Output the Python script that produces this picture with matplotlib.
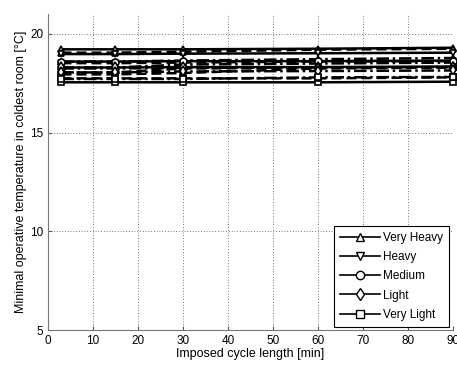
import matplotlib
matplotlib.use("Agg")
import matplotlib.pyplot as plt
from matplotlib.lines import Line2D

plt.rcParams['font.family'] = ['Liberation Sans', 'DejaVu Sans']

cycle_len = [3, 15, 30, 60, 90]
categories = ["Very Heavy", "Heavy", "Medium", "Light", "Very Light"]
markers = ["^", "v", "o", "d", "s"]

# three scenarios per category (solid, dashed, dash-dot)
vh_solid = [19.22, 19.22, 19.22, 19.25, 19.30]
vh_dash = [19.05, 19.05, 19.10, 19.20, 19.25]
vh_dd = [18.60, 18.60, 18.65, 18.72, 18.78]
h_solid = [18.98, 18.98, 19.00, 19.02, 19.05]
h_dash = [18.52, 18.52, 18.55, 18.60, 18.62]
h_dd = [18.30, 18.30, 18.45, 18.50, 18.55]
m_solid = [18.60, 18.60, 18.62, 18.62, 18.65]
m_dash = [18.05, 18.05, 18.25, 18.28, 18.30]
m_dd = [18.25, 18.25, 18.28, 18.30, 18.32]
l_solid = [18.30, 18.30, 18.32, 18.32, 18.35]
l_dash = [17.95, 17.95, 18.02, 18.25, 18.30]
l_dd = [18.05, 18.05, 18.10, 18.12, 18.15]
vl_solid = [17.55, 17.55, 17.55, 17.55, 17.58]
vl_dash = [17.75, 17.75, 17.75, 17.75, 17.80]
vl_dd = [17.72, 17.72, 17.72, 17.80, 17.82]

series = {
    "Very Heavy": [vh_solid, vh_dash, vh_dd],
    "Heavy": [h_solid, h_dash, h_dd],
    "Medium": [m_solid, m_dash, m_dd],
    "Light": [l_solid, l_dash, l_dd],
    "Very Light": [vl_solid, vl_dash, vl_dd],
}
styles = ["-", (0, (4, 2)), (0, (5, 1.5, 1, 1.5))]

fig = plt.figure(figsize=(4.57, 3.73), dpi=100)
ax = fig.add_axes([0.105, 0.115, 0.886, 0.847])

for cat, mk in zip(categories, markers):
    for vals, ls in zip(series[cat], styles):
        ax.plot(cycle_len, vals, color="black", linestyle=ls, linewidth=1.8,
                marker=mk, markersize=5, markerfacecolor="white",
                markeredgecolor="black", markeredgewidth=1.2, clip_on=False)

ax.set_xlim(0, 90)
ax.set_ylim(5, 21)
ax.set_xticks(range(0, 91, 10))
ax.set_yticks([5, 10, 15, 20])
ax.grid(True, linestyle=(0, (1, 3)), color="black", linewidth=0.5)
ax.tick_params(direction="in", labelsize=8.5, length=3, color="#555555")
for s in ["top", "right"]:
    ax.spines[s].set_visible(False)
for s in ["left", "bottom"]:
    ax.spines[s].set_color("#777777")

ax.set_xlabel("Imposed cycle length [min]", fontsize=9, labelpad=1)
ax.set_ylabel("Minimal operative temperature in coldest room [\u00b0C]", fontsize=9, labelpad=2)

handles = [Line2D([0], [0], color="black", linewidth=1.2, marker=mk, markersize=6,
                  markerfacecolor="white", markeredgecolor="black")
           for mk in markers]
leg = ax.legend(handles, categories, loc="lower right", fontsize=8.5, fancybox=False,
                framealpha=1, edgecolor="black", handlelength=3.4, borderaxespad=0.3,
                labelspacing=0.6, handletextpad=0.3, borderpad=0.5)
leg.get_frame().set_linewidth(0.8)

fig.savefig("out.png", dpi=100)
